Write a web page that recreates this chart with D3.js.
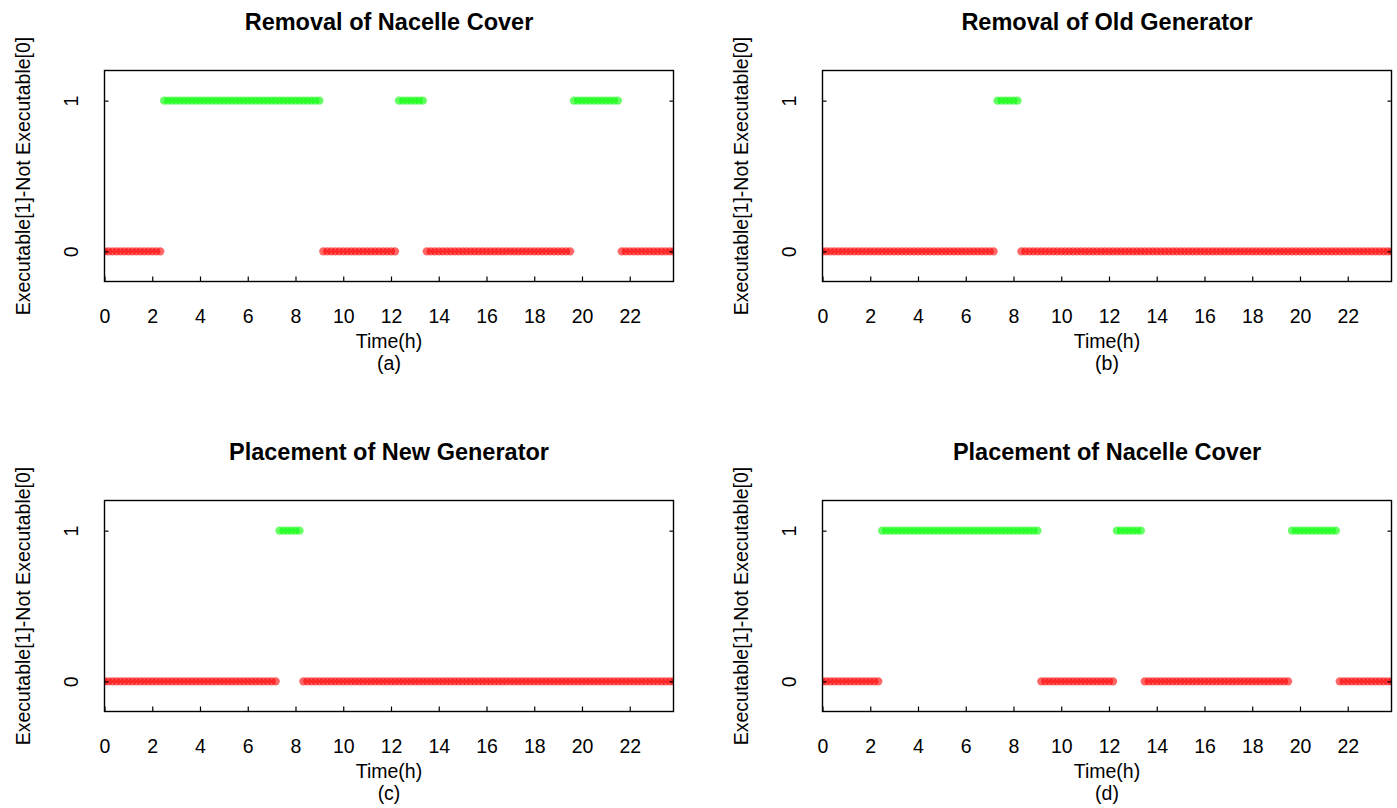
<!DOCTYPE html>
<html>
<head>
<meta charset="utf-8">
<script src="https://cdn.jsdelivr.net/npm/d3@7"></script>
<style>
  html, body { margin: 0; padding: 0; background: #fff; }
  svg { display: block; font-family: "Liberation Sans", Arial, Helvetica, sans-serif; }
</style>
</head>
<body>
<svg id="chart" width="1397" height="808"></svg>
<script>
// ---- DATA ----
// sampling times in minutes (10-minute steps over the day)
const minutes = [
  0, 10, 20, 30, 40, 50, 60, 70, 80, 90, 100, 110,
  120, 130, 140, 150, 160, 170, 180, 190, 200, 210, 220, 230,
  240, 250, 260, 270, 280, 290, 300, 310, 320, 330, 340, 350,
  360, 370, 380, 390, 400, 410, 420, 430, 440, 450, 460, 470,
  480, 490, 500, 510, 520, 530, 540, 550, 560, 570, 580, 590,
  600, 610, 620, 630, 640, 650, 660, 670, 680, 690, 700, 710,
  720, 730, 740, 750, 760, 770, 780, 790, 800, 810, 820, 830,
  840, 850, 860, 870, 880, 890, 900, 910, 920, 930, 940, 950,
  960, 970, 980, 990, 1000, 1010, 1020, 1030, 1040, 1050, 1060, 1070,
  1080, 1090, 1100, 1110, 1120, 1130, 1140, 1150, 1160, 1170, 1180, 1190,
  1200, 1210, 1220, 1230, 1240, 1250, 1260, 1270, 1280, 1290, 1300, 1310,
  1320, 1330, 1340, 1350, 1360, 1370, 1380, 1390, 1400, 1410, 1420, 1430
];

// 1 = executable, 0 = not executable
const removalNacelleCover = [
  0,0,0,0,0,0,0,0,0,0,0,0,
  0,0,0,1,1,1,1,1,1,1,1,1,
  1,1,1,1,1,1,1,1,1,1,1,1,
  1,1,1,1,1,1,1,1,1,1,1,1,
  1,1,1,1,1,1,1,0,0,0,0,0,
  0,0,0,0,0,0,0,0,0,0,0,0,
  0,0,1,1,1,1,1,1,1,0,0,0,
  0,0,0,0,0,0,0,0,0,0,0,0,
  0,0,0,0,0,0,0,0,0,0,0,0,
  0,0,0,0,0,0,0,0,0,0,1,1,
  1,1,1,1,1,1,1,1,1,1,0,0,
  0,0,0,0,0,0,0,0,0,0,0,0
];
const removalOldGenerator = [
  0,0,0,0,0,0,0,0,0,0,0,0,
  0,0,0,0,0,0,0,0,0,0,0,0,
  0,0,0,0,0,0,0,0,0,0,0,0,
  0,0,0,0,0,0,0,0,1,1,1,1,
  1,1,0,0,0,0,0,0,0,0,0,0,
  0,0,0,0,0,0,0,0,0,0,0,0,
  0,0,0,0,0,0,0,0,0,0,0,0,
  0,0,0,0,0,0,0,0,0,0,0,0,
  0,0,0,0,0,0,0,0,0,0,0,0,
  0,0,0,0,0,0,0,0,0,0,0,0,
  0,0,0,0,0,0,0,0,0,0,0,0,
  0,0,0,0,0,0,0,0,0,0,0,0
];
const placementNewGenerator = [
  0,0,0,0,0,0,0,0,0,0,0,0,
  0,0,0,0,0,0,0,0,0,0,0,0,
  0,0,0,0,0,0,0,0,0,0,0,0,
  0,0,0,0,0,0,0,0,1,1,1,1,
  1,1,0,0,0,0,0,0,0,0,0,0,
  0,0,0,0,0,0,0,0,0,0,0,0,
  0,0,0,0,0,0,0,0,0,0,0,0,
  0,0,0,0,0,0,0,0,0,0,0,0,
  0,0,0,0,0,0,0,0,0,0,0,0,
  0,0,0,0,0,0,0,0,0,0,0,0,
  0,0,0,0,0,0,0,0,0,0,0,0,
  0,0,0,0,0,0,0,0,0,0,0,0
];
const placementNacelleCover = [
  0,0,0,0,0,0,0,0,0,0,0,0,
  0,0,0,1,1,1,1,1,1,1,1,1,
  1,1,1,1,1,1,1,1,1,1,1,1,
  1,1,1,1,1,1,1,1,1,1,1,1,
  1,1,1,1,1,1,1,0,0,0,0,0,
  0,0,0,0,0,0,0,0,0,0,0,0,
  0,0,1,1,1,1,1,1,1,0,0,0,
  0,0,0,0,0,0,0,0,0,0,0,0,
  0,0,0,0,0,0,0,0,0,0,0,0,
  0,0,0,0,0,0,0,0,0,0,1,1,
  1,1,1,1,1,1,1,1,1,1,0,0,
  0,0,0,0,0,0,0,0,0,0,0,0
];

const titles = ["Removal of Nacelle Cover", "Removal of Old Generator",
                "Placement of New Generator", "Placement of Nacelle Cover"];
const captions = ["(a)", "(b)", "(c)", "(d)"];
const xTicks = [0, 2, 4, 6, 8, 10, 12, 14, 16, 18, 20, 22];
const yTicks = [0, 1];
const xLabel = "Time(h)";
const yLabel = "Executable[1]-Not Executable[0]";
const seriesList = [removalNacelleCover, removalOldGenerator, placementNewGenerator, placementNacelleCover];

// ---- LAYOUT ----
const svg = d3.select("#chart");
const W = 569, H = 211;
const origins = [[104.5, 70.5], [822.5, 70.5], [104.5, 500.5], [822.5, 500.5]];
const baseFont = 19.5;
const colors = { 1: "#00ff00", 0: "#ff0000" };

const x = d3.scaleLinear().domain([0, minutes[minutes.length - 1] / 60]).range([0, W]);
const y = d3.scaleLinear().domain([-0.2, 1.2]).range([H, 0]);

seriesList.forEach((vals, p) => {
  const [ox, oy] = origins[p];
  const g = svg.append("g").attr("transform", `translate(${ox},${oy})`);

  const clipId = "clip" + p;
  g.append("clipPath").attr("id", clipId)
    .append("rect").attr("x", 0).attr("y", 0).attr("width", W).attr("height", H);

  const pts = minutes.map((m, i) => ({ t: m / 60, v: vals[i] }));
  g.append("g").attr("clip-path", `url(#${clipId})`)
    .selectAll("circle").data(pts).join("circle")
    .attr("cx", d => x(d.t))
    .attr("cy", d => y(d.v))
    .attr("r", 4.2)
    .attr("fill", d => colors[d.v])
    .attr("fill-opacity", 0.6);

  // x axis (inward ticks)
  const xa = g.append("g").attr("transform", `translate(0,${H})`)
    .call(d3.axisBottom(x).tickValues(xTicks).tickSize(-5).tickPadding(28).tickFormat(d3.format("d")));
  xa.select(".domain").remove();
  xa.selectAll("line").attr("stroke", "#000").attr("stroke-width", 1.2);
  xa.selectAll("text").attr("font-size", baseFont).attr("fill", "#000").attr("font-family", null);

  // y axis left (inward ticks, rotated labels)
  const ya = g.append("g")
    .call(d3.axisLeft(y).tickValues(yTicks).tickSize(-4).tickFormat(d3.format("d")));
  ya.select(".domain").remove();
  ya.selectAll("line").attr("stroke", "#000").attr("stroke-width", 1.2);
  ya.selectAll("text")
    .attr("x", null).attr("dy", null)
    .attr("transform", "translate(-27,0) rotate(-90)")
    .attr("text-anchor", "middle")
    .attr("font-size", baseFont).attr("fill", "#000").attr("font-family", null);

  // y axis right (inward ticks, no labels)
  const yr = g.append("g").attr("transform", `translate(${W},0)`)
    .call(d3.axisRight(y).tickValues(yTicks).tickSize(-4).tickFormat(""));
  yr.select(".domain").remove();
  yr.selectAll("line").attr("stroke", "#000").attr("stroke-width", 1.2);

  // box
  g.append("rect").attr("x", 0).attr("y", 0).attr("width", W).attr("height", H)
    .attr("fill", "none").attr("stroke", "#000").attr("stroke-width", 1.4);

  // title
  g.append("text").attr("x", W / 2).attr("y", -41)
    .attr("text-anchor", "middle").attr("font-weight", "bold")
    .attr("font-size", 23.5).text(titles[p]);

  // x label + caption
  g.append("text").attr("x", W / 2).attr("y", H + 66)
    .attr("text-anchor", "middle").attr("font-size", baseFont).text(xLabel);
  g.append("text").attr("x", W / 2).attr("y", H + 88)
    .attr("text-anchor", "middle").attr("font-size", baseFont).text(captions[p]);

  // y label
  g.append("text")
    .attr("transform", `translate(-75,${H / 2}) rotate(-90)`)
    .attr("text-anchor", "middle").attr("font-size", baseFont).text(yLabel);
});
</script>
</body>
</html>
